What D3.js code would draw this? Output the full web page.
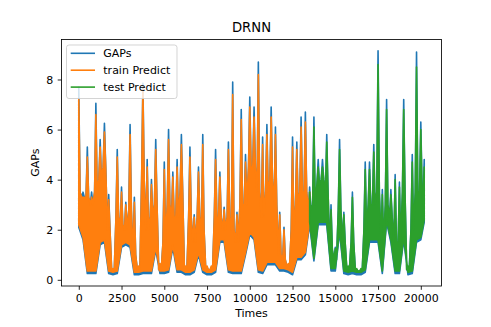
<!DOCTYPE html>
<html>
<head>
<meta charset="utf-8">
<script src="https://cdn.jsdelivr.net/npm/d3@7"></script>
<style>
body { margin: 0; background: #fff; }
text { font-family: "DejaVu Sans", sans-serif; fill: #000; }
</style>
</head>
<body>
<script>
// the series are far too dense to read point by point, so each one is kept
// as an envelope, one sample every 250 steps:
// hi = spike top, lo = bottom, bandTop = top of the solid (dense) band
var gapHi = [7.7, 3.5, 5.3, 3.5, 7.05, 5.6, 6.25, 3.4, 0.4, 5.2,
  3.7, 3.1, 6.2, 3.3, 0.5, 7.85, 4.8, 4.0, 5.6, 0.6,
  4.7, 6.0, 4.3, 4.8, 5.8, 0.5, 5.3, 2.6, 4.5, 5.8,
  0.5, 0.5, 5.2, 4.3, 2.9, 5.5, 7.9, 2.7, 6.8, 5.0,
  7.3, 6.9, 8.7, 5.7, 6.2, 6.9, 6.1, 2.7, 2.1, 0.6,
  5.7, 5.5, 6.5, 6.7, 3.7, 6.5, 4.8, 4.8, 5.8, 3.0,
  1.3, 5.6, 2.7, 0.5, 3.5, 0.4, 0.4, 4.7, 4.7, 5.4,
  9.15, 3.6, 7.2, 3.6, 4.2, 3.9, 7.2, 0.5, 5.0, 9.1,
  6.3, 4.8]
var gapLo = [2.1, 1.6, 0.25, 0.25, 0.25, 1.4, 1.5, 0.25, 0.2, 0.25,
  1.3, 1.4, 1.3, 0.2, 0.2, 0.25, 0.25, 0.25, 1.2, 0.25,
  0.25, 0.3, 1.3, 0.3, 0.3, 0.2, 0.2, 0.3, 1.0, 0.3,
  0.2, 0.2, 0.3, 1.5, 1.5, 0.3, 0.25, 0.25, 0.25, 1.0,
  1.8, 1.6, 0.3, 0.25, 0.6, 0.6, 0.6, 0.35, 0.35, 0.3,
  0.2, 0.8, 0.8, 1.0, 2.2, 0.75, 2.2, 2.2, 2.2, 0.35,
  0.35, 1.9, 0.25, 0.2, 0.25, 0.2, 0.2, 0.3, 1.5, 1.5,
  1.5, 0.25, 2.3, 1.5, 0.25, 0.25, 1.6, 0.2, 0.25, 1.5,
  1.6, 2.3]
var bandTop = [3.5, 3.3, 3.3, 3.0, 3.5, 4.0, 4.5, 2.0, 0.35, 2.5,
  2.2, 2.0, 2.8, 1.0, 0.4, 4.0, 2.0, 2.5, 3.0, 0.4,
  1.5, 3.0, 2.5, 2.5, 3.5, 0.4, 2.5, 1.5, 2.5, 2.0,
  0.4, 0.4, 2.5, 2.5, 2.0, 2.5, 2.0, 1.5, 3.0, 3.0,
  4.5, 4.5, 3.5, 2.5, 3.5, 4.0, 3.0, 1.0, 0.8, 0.5,
  2.0, 3.0, 3.5, 3.5, 2.8, 3.0, 3.8, 4.0, 3.5, 1.2,
  0.8, 2.8, 1.5, 0.4, 1.5, 0.35, 0.35, 2.0, 3.0, 3.0,
  3.5, 1.5, 3.0, 2.5, 1.5, 1.5, 3.5, 0.4, 2.0, 3.5,
  3.5, 3.0]

// train predict covers samples 0..54
var trainHi = [7.2, 3.3, 4.9, 3.3, 6.6, 5.3, 5.9, 3.2, 0.45, 4.9,
  3.5, 3.0, 5.8, 3.1, 0.55, 7.6, 4.5, 3.8, 5.2, 0.65,
  4.4, 5.6, 4.1, 4.5, 5.4, 0.55, 4.9, 2.5, 4.3, 5.4,
  0.55, 0.55, 4.8, 4.1, 2.8, 5.2, 7.4, 2.6, 6.4, 4.7,
  6.9, 6.5, 8.2, 5.4, 5.8, 6.5, 5.8, 2.6, 2.0, 0.65,
  5.3, 5.2, 6.1, 6.3, 3.5]
var trainLo = [2.2, 1.7, 0.35, 0.35, 0.35, 1.5, 1.6, 0.35, 0.3, 0.35,
  1.4, 1.5, 1.4, 0.3, 0.3, 0.35, 0.35, 0.35, 1.3, 0.35,
  0.35, 0.4, 1.4, 0.4, 0.4, 0.3, 0.3, 0.4, 1.1, 0.4,
  0.3, 0.3, 0.4, 1.6, 1.6, 0.4, 0.35, 0.35, 0.35, 1.1,
  1.9, 1.7, 0.4, 0.35, 0.7, 0.7, 0.7, 0.45, 0.45, 0.4,
  0.3, 0.9, 0.9, 1.1, 2.3]

// test predict covers samples 54..81
var testStart = 54
var testHi = [3.5, 6.1, 4.5, 4.5, 5.5, 2.8, 1.25, 5.2, 2.6, 0.55,
  3.3, 0.45, 0.45, 4.4, 4.4, 5.1, 8.6, 3.4, 6.8, 3.4,
  4.0, 3.7, 6.8, 0.55, 4.7, 8.5, 6.0, 4.5]
var testLo = [2.3, 0.85, 2.3, 2.3, 2.3, 0.45, 0.45, 2.0, 0.35, 0.3,
  0.35, 0.3, 0.3, 0.4, 1.6, 1.6, 1.6, 0.35, 2.4, 1.6,
  0.35, 0.35, 1.7, 0.3, 0.35, 1.6, 1.7, 2.4]

var sampleStep = 250
var lastTime = 20200
var xTicks = [0, 2500, 5000, 7500, 10000, 12500, 15000, 17500, 20000]
var yTicks = [0, 2, 4, 6, 8]
var legendNames = ["GAPs", "train Predict", "test Predict"]
var colors = ["#1f77b4", "#ff7f0e", "#2ca02c"]

function main() {
  var width = 491, height = 327
  var left = 61.5, right = 441.5, top = 39.5, bottom = 286

  var svg = d3.select("body").append("svg")
    .attr("width", width).attr("height", height)

  function timeOf(i) { return Math.min(i * sampleStep, lastTime) }

  function makeSeries(hi, lo, offset) {
    return hi.map(function(d, i) {
      var k = i + offset
      return {t: timeOf(k), hi: d, lo: lo[i], band: Math.min(bandTop[k], d)}
    })
  }
  var gaps = makeSeries(gapHi, gapLo, 0)
  var train = makeSeries(trainHi, trainLo, 0)
  var test = makeSeries(testHi, testLo, testStart)

  // matplotlib style 5% margins round the data
  var tMax = d3.max(gaps, function(d) { return d.t })
  var vMin = d3.min(gapLo), vMax = d3.max(gapHi)
  var tPad = tMax * 0.05, vPad = (vMax - vMin) * 0.05

  var x = d3.scaleLinear().domain([-tPad, tMax + tPad]).range([left, right])
  var y = d3.scaleLinear().domain([vMin - vPad, vMax + vPad]).range([bottom, top])

  // outline: a narrow spike at every sample standing on the dense band,
  // then back along the bottom
  var spikeHalf = 75
  var line = d3.line().x(function(p) { return x(p[0]) }).y(function(p) { return y(p[1]) })
  function outline(s) {
    var t0 = s[0].t, t1 = s[s.length - 1].t
    var pts = []
    s.forEach(function(d) {
      pts.push([Math.max(t0, d.t - spikeHalf), d.band])
      pts.push([d.t, d.hi])
      pts.push([Math.min(t1, d.t + spikeHalf), d.band])
    })
    for (var i = s.length - 1; i >= 0; i--) pts.push([s[i].t, s[i].lo])
    return line(pts) + "Z"
  }

  var series = [gaps, train, test]
  series.forEach(function(s, i) {
    svg.append("path")
      .attr("d", outline(s))
      .attr("fill", colors[i])
      .attr("stroke", colors[i])
      .attr("stroke-width", 1.6)
      .attr("stroke-linejoin", "round")
  })

  // axes
  var xAxis = d3.axisBottom(x).tickValues(xTicks).tickSize(3.8).tickPadding(4)
    .tickFormat(d3.format("d"))
  var yAxis = d3.axisLeft(y).tickValues(yTicks).tickSize(3.8).tickPadding(4.5)
    .tickFormat(d3.format("d"))

  var gx = svg.append("g").attr("transform", "translate(0," + bottom + ")").call(xAxis)
  var gy = svg.append("g").attr("transform", "translate(" + left + ",0)").call(yAxis)
  ;[gx, gy].forEach(function(g) {
    g.select(".domain").remove()
    g.selectAll("line").attr("stroke", "#000").attr("stroke-width", 0.85)
    g.selectAll("text").attr("font-size", 11).attr("font-family", "DejaVu Sans").attr("fill", "#000")
  })
  gx.selectAll("text").attr("dy", "0.71em").attr("y", 7.8)

  svg.append("rect")
    .attr("x", left).attr("y", top)
    .attr("width", right - left).attr("height", bottom - top)
    .attr("fill", "none").attr("stroke", "#000").attr("stroke-width", 0.85)

  // texts
  svg.append("text").text("DRNN")
    .attr("x", (left + right) / 2).attr("y", 32.3)
    .attr("text-anchor", "middle").attr("font-size", 13.2)
  svg.append("text").text("Times")
    .attr("x", (left + right) / 2).attr("y", 317.3)
    .attr("text-anchor", "middle").attr("font-size", 11)
  svg.append("text").text("GAPs")
    .attr("transform", "translate(38.5," + (top + bottom) / 2 + ") rotate(-90)")
    .attr("text-anchor", "middle").attr("font-size", 11)

  // legend
  var lg = svg.append("g")
  lg.append("rect")
    .attr("x", 66.5).attr("y", 45).attr("width", 110.5).attr("height", 53.5)
    .attr("rx", 2.5).attr("fill", "#fff").attr("fill-opacity", 0.8)
    .attr("stroke", "#cccccc").attr("stroke-width", 0.85)
  legendNames.forEach(function(name, i) {
    var ly = 53.3 + i * 16.9
    lg.append("line")
      .attr("x1", 70.7).attr("x2", 95).attr("y1", ly).attr("y2", ly)
      .attr("stroke", colors[i]).attr("stroke-width", 1.6)
    lg.append("text").text(name)
      .attr("x", 103.3).attr("y", ly + 4).attr("font-size", 11)
  })
}

main()
</script>
</body>
</html>
